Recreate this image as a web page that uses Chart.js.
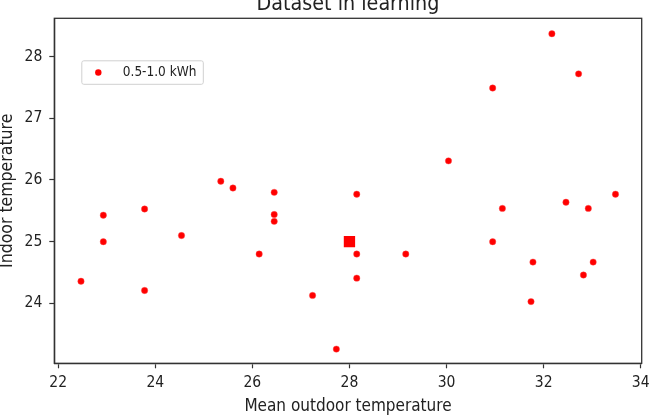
<!DOCTYPE html>
<html>
<head>
<meta charset="utf-8">
<script src="https://cdn.jsdelivr.net/npm/chart.js@4.4.1/dist/chart.umd.min.js"></script>
<style>
  html, body { margin: 0; padding: 0; background: #fff; }
  #wrap { width: 655px; height: 416px; }
</style>
</head>
<body>
<div id="wrap"><canvas id="grafico" width="655" height="416"></canvas></div>
<script>
// Datos (temperatura exterior media vs interior)
const outdoorTemps = [22.47, 22.93, 22.93, 23.78, 23.78, 24.54, 25.35, 25.60, 26.14, 26.45,
  26.45, 26.45, 27.24, 27.73, 28.15, 28.15, 28.15, 29.16, 30.04, 30.95,
  30.95, 31.15, 31.74, 31.78, 32.17, 32.46, 32.72, 32.82, 32.92, 33.02, 33.48];
const indoorTemps = [24.36, 25.43, 25.00, 25.53, 24.21, 25.10, 25.98, 25.87, 24.80, 25.80,
  25.44, 25.33, 24.13, 23.26, 25.77, 24.80, 24.41, 24.80, 26.31, 27.49,
  25.00, 25.54, 24.03, 24.67, 28.37, 25.64, 27.72, 24.46, 25.54, 24.67, 25.77];
// punto medio (cuadrado grande)
const meanOutdoor = [28.0];
const meanIndoor = [25.0];

const xTicks = [22, 24, 26, 28, 30, 32, 34];
const yTicks = [24, 25, 26, 27, 28];
const seriesLabel = '0.5-1.0 kWh';
const chartTitle = 'Dataset in learning';

const fuente = 'DejaVu Sans Condensed, DejaVu Sans, sans-serif';
const ejeColor = '#333333';

// marco completo alrededor del area (como matplotlib)
const marco = {
  id: 'marco',
  afterDatasetsDraw(chart) {
    const a = chart.chartArea;
    const ctx = chart.ctx;
    ctx.save();
    ctx.strokeStyle = ejeColor;
    ctx.lineWidth = 1.3;
    ctx.strokeRect(a.left, a.top, a.right - a.left, a.bottom - a.top);
    ctx.restore();
  }
};

// titulo centrado sobre el area del grafico (queda cortado arriba)
const titulo = {
  id: 'titulo',
  afterDraw(chart) {
    const a = chart.chartArea;
    const ctx = chart.ctx;
    ctx.save();
    ctx.fillStyle = '#222';
    ctx.font = '21.3px ' + fuente;
    ctx.textAlign = 'center';
    ctx.textBaseline = 'alphabetic';
    ctx.fillText(chartTitle, (a.left + a.right) / 2, 10);
    ctx.restore();
  }
};

// leyenda dentro del grafico, arriba a la izquierda
const leyenda = {
  id: 'leyenda',
  afterDraw(chart) {
    const a = chart.chartArea;
    const ctx = chart.ctx;
    const x = a.left + 27.5, y = a.top + 42.5, w = 121.5, h = 23.5;
    ctx.save();
    ctx.fillStyle = 'rgba(255,255,255,0.8)';
    ctx.strokeStyle = '#d0d0d0';
    ctx.lineWidth = 1;
    ctx.beginPath();
    ctx.roundRect(x, y, w, h, 2);
    ctx.fill();
    ctx.stroke();
    ctx.fillStyle = '#ff0000';
    ctx.beginPath();
    ctx.arc(x + 16.5, y + 11.7, 3.2, 0, Math.PI * 2);
    ctx.fill();
    ctx.fillStyle = '#222';
    ctx.font = '13.5px ' + fuente;
    ctx.textBaseline = 'middle';
    ctx.fillText(seriesLabel, x + 41, y + 12);
    ctx.restore();
  }
};

const ctx = document.getElementById('grafico').getContext('2d');

new Chart(ctx, {
  type: 'scatter',
  data: {
    datasets: [{
      label: seriesLabel,
      data: outdoorTemps.map((v, i) => ({ x: v, y: indoorTemps[i] })),
      backgroundColor: '#ff0000',
      borderColor: 'rgba(255,80,80,0.5)',
      borderWidth: 0.8,
      pointRadius: 3.2,
      pointHoverRadius: 3.2
    }, {
      label: 'media',
      data: meanOutdoor.map((v, i) => ({ x: v, y: meanIndoor[i] })),
      backgroundColor: '#ff0000',
      borderWidth: 0,
      pointStyle: 'rect',
      pointRadius: 8,
      pointHoverRadius: 8
    }]
  },
  options: {
    responsive: false,
    animation: false,
    layout: { padding: { left: 0, right: 13.3, top: 18.3, bottom: 0 } },
    plugins: {
      legend: { display: false },
      tooltip: { enabled: false },
      title: { display: false }
    },
    scales: {
      x: {
        type: 'linear',
        min: 21.92,
        max: 34.02,
        afterFit: s => { s.height = 52.7; },
        afterBuildTicks: s => { s.ticks = xTicks.map(v => ({ value: v })); },
        grid: { drawOnChartArea: false, drawTicks: true, tickLength: 5, tickColor: ejeColor, tickWidth: 1.2 },
        border: { color: ejeColor, width: 1.3 },
        ticks: { color: '#222', padding: 5, font: { family: fuente, size: 15.5 }, maxRotation: 0 },
        title: {
          display: true,
          text: 'Mean outdoor temperature',
          color: '#222',
          font: { family: fuente, size: 17 },
          padding: { top: 0, bottom: -0.5 }
        }
      },
      y: {
        type: 'linear',
        min: 23.03,
        max: 28.62,
        afterFit: s => { s.width = 54.3; },
        afterBuildTicks: s => { s.ticks = yTicks.map(v => ({ value: v })); },
        grid: { drawOnChartArea: false, drawTicks: true, tickLength: 5, tickColor: ejeColor, tickWidth: 1.2 },
        border: { color: ejeColor, width: 1.3 },
        ticks: { color: '#222', padding: 7, font: { family: fuente, size: 15.5 } },
        title: {
          display: true,
          text: 'Indoor temperature',
          color: '#222',
          font: { family: fuente, size: 17.5 },
          padding: { top: -3, bottom: 0 }
        }
      }
    }
  },
  plugins: [marco, titulo, leyenda]
});
</script>
</body>
</html>
